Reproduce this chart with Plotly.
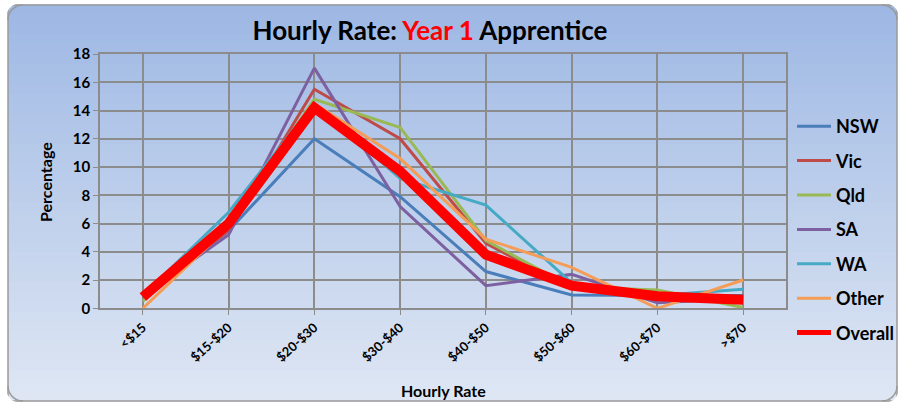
import math
import plotly.graph_objects as go

categories = ["<$15", "$15-$20", "$20-$30", "$30-$40", "$40-$50", "$50-$60", "$60-$70", ">$70"]
nsw = [1.0, 5.5, 12.0, 7.9, 2.6, 0.95, 0.9, 0.9]
vic = [0.8, 5.5, 15.5, 12.0, 4.6, 1.4, 1.0, 0.6]
qld = [0.5, 6.0, 14.8, 12.8, 4.8, 1.5, 1.3, 0.05]
sa = [0.9, 5.2, 17.0, 7.2, 1.6, 2.4, 0.4, 0.7]
wa = [0.9, 6.8, 14.5, 9.2, 7.3, 1.8, 0.9, 1.35]
other = [0.0, 5.8, 14.5, 10.6, 4.9, 2.9, 0.0, 2.0]
overall = [0.8, 6.0, 14.2, 9.7, 3.8, 1.6, 0.85, 0.6]

series = [
    ("NSW", nsw, "#4A7EBB", 3),
    ("Vic", vic, "#BE4B48", 3),
    ("Qld", qld, "#98B954", 3),
    ("SA", sa, "#7D60A0", 3),
    ("WA", wa, "#46AAC5", 3),
    ("Other", other, "#F59D56", 3),
    ("Overall", overall, "#FF0000", 10),
]

W, H = 899, 403
font = "Lato, 'Open Sans', sans-serif"

fig = go.Figure()
for name, vals, color, width in series:
    is_overall = name == "Overall"
    fig.add_trace(go.Scatter(
        x=categories, y=vals, name="<b>%s</b>" % name, mode="lines",
        line=dict(color=color, width=width),
        legendgroup=name, showlegend=not is_overall,
    ))
    if is_overall:
        # legend-only entry with a thinner sample line
        fig.add_trace(go.Scatter(
            x=[None], y=[None], name="<b>%s</b>" % name, mode="lines",
            line=dict(color=color, width=5), legendgroup=name + "_leg",
        ))


def px(x):
    return x / W


def py(y):
    return 1 - y / H


# gradient background bands (paper coords, margins are zero)
L, T, R, B = 8, 5, 897, 401
top = (158, 184, 228)
bot = (222, 230, 243)
n = 40
shapes = []
for k in range(n):
    t = k / (n - 1)
    c = tuple(int(round(top[j] + (bot[j] - top[j]) * t)) for j in range(3))
    ya = py(T + (B - T) * k / n)
    yb = py(T + (B - T) * (k + 1) / n)
    shapes.append(dict(type="rect", xref="paper", yref="paper", x0=px(L), x1=px(R),
                       y0=yb - 0.001, y1=ya + 0.001, fillcolor="rgb(%d,%d,%d)" % c,
                       line=dict(width=0), layer="below"))

r = 15


def corner_mask(cx, cy, sx, sy):
    ax, ay = cx + sx * r, cy + sy * r
    path = "M %f,%f L %f,%f " % (px(cx), py(cy), px(cx), py(ay))
    for s in range(13):
        ang = math.pi / 2 * s / 12
        x = ax - sx * r * math.cos(ang)
        y = ay - sy * r * math.sin(ang)
        path += "L %f,%f " % (px(x), py(y))
    path += "Z"
    return path


shapes.append(dict(type="rect", xref="paper", yref="paper", x0=px(L), x1=px(R), y0=py(B), y1=py(T),
                   line=dict(color="#9A9A9A", width=1.5), layer="below"))
for (cx, cy, sx, sy) in [(L - 2, T - 2, 1, 1), (R + 2, T - 2, -1, 1), (L - 2, B + 2, 1, -1), (R + 2, B + 2, -1, -1)]:
    shapes.append(dict(type="path", xref="paper", yref="paper", path=corner_mask(cx, cy, sx, sy),
                       fillcolor="white", line=dict(width=0), layer="below"))


def arc_path(cx, cy, a0, a1):
    p = ""
    for s in range(13):
        ang = a0 + (a1 - a0) * s / 12
        x = cx + r * math.cos(ang)
        y = cy + r * math.sin(ang)
        p += ("M" if s == 0 else "L") + " %f,%f " % (px(x), py(y))
    return p


for (cx, cy, a0, a1) in [(L + r, T + r, math.pi, 1.5 * math.pi), (R - r, T + r, 1.5 * math.pi, 2 * math.pi),
                         (L + r, B - r, 0.5 * math.pi, math.pi), (R - r, B - r, 0, 0.5 * math.pi)]:
    shapes.append(dict(type="path", xref="paper", yref="paper", path=arc_path(cx, cy, a0, a1),
                       line=dict(color="#9A9A9A", width=1.5), layer="below"))

fig.update_layout(
    width=W, height=H,
    margin=dict(l=0, r=0, t=0, b=0, autoexpand=False),
    paper_bgcolor="white",
    plot_bgcolor="#DCE6F2",
    shapes=shapes,
    font=dict(family=font, color="black"),
    title=dict(
        text="<b>Hourly Rate: <span style='color:#FF0000'>Year 1</span> Apprentice</b>",
        x=px(430), xanchor="center", y=py(31), yanchor="middle",
        font=dict(size=26, family=font, color="black"),
    ),
    xaxis=dict(
        domain=[px(100), px(786)],
        automargin=False,
        showgrid=True, gridcolor="#8C8C8C", gridwidth=1.5,
        tickangle=-42, tickfont=dict(size=13, family=font, color="black"),
        ticks="outside", ticklen=5, tickcolor="#8C8C8C",
        showline=True, linecolor="#8C8C8C", linewidth=1.5, mirror=True,
        range=[-0.5, 7.5],
        tickvals=categories, ticktext=["<b>%s</b>" % c for c in categories],
    ),
    yaxis=dict(
        domain=[py(308.3), py(54)],
        automargin=False,
        range=[0, 18], dtick=2,
        showgrid=True, gridcolor="#8C8C8C", gridwidth=1.5,
        tickfont=dict(size=15, family=font, color="black"),
        tickprefix="<b>", ticksuffix="</b>",
        ticks="outside", ticklen=5, tickcolor="#8C8C8C",
        showline=True, linecolor="#8C8C8C", linewidth=1.5, mirror=True,
        zeroline=False,
    ),
    legend=dict(
        x=px(792), xanchor="left", y=py(108), yanchor="top",
        bgcolor="rgba(0,0,0,0)",
        font=dict(size=18, family=font, color="black"),
        tracegroupgap=8,
        itemwidth=34,
    ),
    annotations=[
        dict(text="<b>Percentage</b>", x=px(45), y=py(182), xref="paper", yref="paper",
             textangle=-90, showarrow=False, font=dict(size=16, family=font, color="black"),
             xanchor="center", yanchor="middle"),
        dict(text="<b>Hourly Rate</b>", x=px(443), y=py(390), xref="paper", yref="paper",
             showarrow=False, font=dict(size=16, family=font, color="black"),
             xanchor="center", yanchor="middle"),
    ],
    showlegend=True,
)

fig.write_html("out.html", config={"displayModeBar": False},
               post_script="document.body.style.margin='0px';")
